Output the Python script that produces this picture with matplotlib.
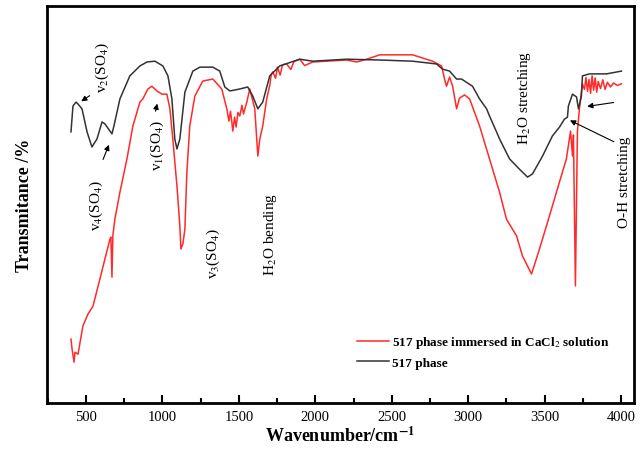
import matplotlib
matplotlib.use('Agg')
import matplotlib.pyplot as plt
from matplotlib.ticker import MultipleLocator

plt.rcParams['font.family'] = ['Liberation Serif', 'DejaVu Serif']
plt.rcParams['mathtext.fontset'] = 'stix'

# 517 phase (black), wavenumber / transmittance (arbitrary %)
wn_black = [402, 415, 435, 448, 474, 507, 539, 572, 605, 624, 657, 670, 683, 722,
            787, 853, 899, 951, 1003, 1036, 1062, 1081, 1095, 1114, 1147, 1199,
            1245, 1330, 1375, 1408, 1441, 1506, 1558, 1591, 1624, 1656, 1702,
            1767, 1898, 1983, 2205, 2421, 2636, 2793, 2832, 2878, 2924, 2956,
            3028, 3074, 3120, 3139, 3185, 3205, 3270, 3335, 3388, 3420, 3486,
            3551, 3597, 3629, 3649, 3655, 3682, 3708, 3721, 3740, 3747, 3793,
            3904, 4002]
tr_black = [68.3, 74.8, 75.8, 75.3, 74.1, 68.3, 64.5, 66.5, 70.8, 70.3, 68.5, 67.8,
            69.8, 76.6, 82.4, 84.9, 85.9, 86.1, 84.9, 82.4, 76.6, 66.5, 64.0, 66.5,
            78.3, 83.6, 84.6, 84.6, 83.6, 79.6, 78.6, 79.1, 79.6, 77.3, 74.1, 75.8,
            82.4, 84.9, 86.6, 86.1, 86.6, 86.4, 86.1, 85.4, 84.1, 83.6, 81.6, 81.6,
            79.8, 76.6, 74.1, 72.3, 68.3, 66.5, 61.5, 58.9, 56.9, 57.7, 62.2, 67.3,
            69.5, 71.5, 72.0, 74.8, 77.8, 77.1, 74.1, 77.3, 82.4, 82.9, 82.9, 83.6]

# 517 phase immersed in CaCl2 solution (red)
wn_red = [402, 409, 422, 428, 448, 480, 513, 546, 591, 624, 657, 663, 670, 676, 689,
          722, 768, 807, 853, 872, 905, 931, 964, 997, 1029, 1049, 1068, 1095, 1114,
          1121, 1134, 1147, 1160, 1179, 1212, 1264, 1330, 1388, 1421, 1435, 1445,
          1454, 1460, 1472, 1482, 1494, 1506, 1520, 1530, 1552, 1571, 1604, 1624,
          1637, 1656, 1682, 1702, 1712, 1722, 1740, 1752, 1770, 1785, 1813, 1840,
          1860, 1898, 1930, 1983, 2205, 2270, 2336, 2421, 2636, 2767, 2826, 2845,
          2858, 2878, 2898, 2924, 2943, 2976, 3009, 3074, 3139, 3205, 3250, 3316,
          3355, 3414, 3466, 3531, 3597, 3642, 3669, 3682, 3688, 3701, 3714, 3727,
          3740, 3747, 3760, 3770, 3780, 3790, 3800, 3810, 3820, 3830, 3840, 3850,
          3865, 3880, 3895, 3910, 3930, 3950, 3975, 4002]
tr_red = [16.1, 13.6, 10.3, 12.8, 12.3, 19.4, 22.4, 24.4, 31.2, 36.3, 41.3, 41.8,
          31.7, 42.3, 46.3, 53.1, 61.5, 69.8, 75.8, 76.6, 79.1, 79.8, 78.6, 77.8,
          77.8, 74.1, 66.5, 54.7, 44.6, 38.8, 40.1, 43.8, 58.2, 69.8, 77.3, 81.1,
          81.6, 79.1, 74.1, 71.0, 73.5, 70.8, 68.5, 72.0, 69.5, 73.2, 72.3, 75.0,
          72.8, 75.8, 79.1, 74.1, 62.2, 66.5, 69.8, 76.6, 80.0, 82.8, 83.4, 81.8,
          84.6, 82.6, 85.2, 85.4, 84.0, 86.0, 86.6, 85.0, 85.9, 86.4, 85.9, 86.6,
          87.7, 87.7, 86.1, 84.9, 81.6, 79.8, 82.1, 79.8, 74.1, 76.8, 77.6, 76.6,
          69.8, 61.5, 53.1, 46.3, 42.1, 37.0, 32.5, 38.8, 47.1, 55.7, 61.5, 68.5,
          62.2, 67.5, 29.5, 68.3, 74.1, 78.3, 80.4, 79.0, 82.0, 78.5, 81.5, 78.0,
          82.4, 78.8, 81.9, 78.3, 81.0, 79.2, 81.4, 79.0, 80.8, 79.6, 80.6, 80.0,
          80.4]

fig = plt.figure(figsize=(6.4, 4.52), dpi=100)
ax = fig.add_axes([0.0734, 0.1062, 0.9172, 0.8783])

ax.plot(wn_red, tr_red, color='#ff2a2a', lw=1.1,
        label='517 phase immersed in CaCl$_2$ solution')
ax.plot(wn_black, tr_black, color='#333333', lw=1.1, label='517 phase')

ax.set_xlim(245, 4084)
ax.set_ylim(0, 100)
ax.xaxis.set_major_locator(MultipleLocator(500))
ax.xaxis.set_minor_locator(MultipleLocator(250))
ax.set_yticks([])
ax.tick_params(axis='x', which='both', direction='in', top=False, labelsize=10.5, pad=5)
ax.tick_params(axis='x', which='major', length=5.5, width=1.5)
ax.tick_params(axis='x', which='minor', length=3.5, width=1.5)
for s in ax.spines.values():
    s.set_linewidth(2)

ax.set_xlabel('Wavenumber/cm$^{\\mathbf{-1}}$', fontsize=13, fontweight='bold', labelpad=2)
ax.set_ylabel('Transmitance /%', fontsize=13, fontweight='bold', labelpad=10)

# peak labels
txt = dict(rotation=90, ha='center', va='center', fontsize=11)
ax.text(605, 84.9, 'v$_2$(SO$_4$)', **txt)
ax.text(565, 50.1, 'v$_4$(SO$_4$)', **txt)
ax.text(964, 65.2, 'v$_1$(SO$_4$)', **txt)
ax.text(1336, 38.0, 'v$_3$(SO$_4$)', **txt)
ax.text(1709, 42.6, 'H$_2$O bending', **txt)
ax.text(3368, 77.1, 'H$_2$O stretching', **txt)
ax.text(4021, 55.9, 'O-H stretching', **txt)

arr = dict(arrowstyle='-|>', color='black', lw=0.8, mutation_scale=8)
ax.annotate('', xy=(454, 75.6), xytext=(539, 77.8), arrowprops=arr)
ax.annotate('', xy=(657, 65.7), xytext=(605, 60.7), arrowprops=arr)
ax.annotate('', xy=(970, 76.1), xytext=(951, 72.8), arrowprops=arr)
ax.annotate('', xy=(3649, 71.5), xytext=(3969, 65.5), arrowprops=arr)
ax.annotate('', xy=(3760, 74.6), xytext=(3969, 75.8), arrowprops=arr)

ax.legend(loc='upper left', bbox_to_anchor=(0.52, 0.186), frameon=False,
          borderaxespad=0, handlelength=2.35, handletextpad=0.25, labelspacing=0.45,
          prop={'weight': 'bold', 'size': 9.5})

fig.savefig('out.png', dpi=100)
